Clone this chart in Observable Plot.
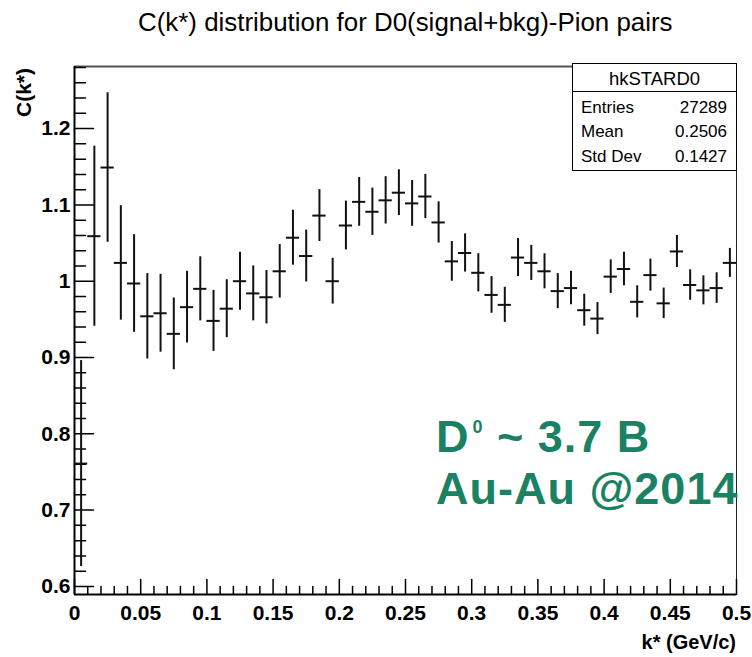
<!DOCTYPE html>
<html>
<head>
<meta charset="utf-8">
<script src="https://cdn.jsdelivr.net/npm/d3@7"></script>
<script src="https://cdn.jsdelivr.net/npm/@observablehq/plot@0.6"></script>
<style>
  body { margin: 0; background: white; }
  #wrap { position: relative; width: 752px; height: 657px; background: white; overflow: hidden;
          font-family: "Liberation Sans", Arial, Helvetica, sans-serif; color: black; }
  #chart { position: absolute; left: 0; top: 0; }
  .abs { position: absolute; line-height: 1; white-space: nowrap; }
</style>
</head>
<body>
<div id="wrap">
  <div id="chart"></div>
  <div class="abs" id="title" style="left:138px; top:10px; font-size:25.9px;"></div>
  <div class="abs" id="ylab" style="left:13px; top:168px; width:100px; text-align:right; font-size:21px; font-weight:bold; transform-origin:0 0; transform:rotate(-90deg);"></div>
  <div class="abs" id="xlab" style="left:536px; top:632px; width:200px; text-align:right; font-size:20px; font-weight:bold;"></div>
  <div id="stats" style="position:absolute; left:572px; top:63px; width:165px; height:108px; box-sizing:border-box; border:1px solid black; background:white;"></div>
  <div id="ann" style="color:#1a8262; font-weight:bold; font-size:45px; letter-spacing:1px;"></div>
</div>
<script>
// ---- data ----
const histName = "hkSTARD0";
const titleText = "C(k*) distribution for D0(signal+bkg)-Pion pairs";
const xLabel = "k* (GeV/c)";
const yLabel = "C(k*)";
const statLabels = ["Entries", "Mean", "Std Dev"];
const statValues = ["27289", "0.2506", "0.1427"];
const annotation1 = ["D", "0", " ~ 3.7 B"];
const annotation2 = "Au-Au @2014";

const binWidth = 0.01;
const kstar = [0.005, 0.015, 0.025, 0.035, 0.045, 0.055, 0.065, 0.075, 0.085, 0.095,
               0.105, 0.115, 0.125, 0.135, 0.145, 0.155, 0.165, 0.175, 0.185, 0.195,
               0.205, 0.215, 0.225, 0.235, 0.245, 0.255, 0.265, 0.275, 0.285, 0.295,
               0.305, 0.315, 0.325, 0.335, 0.345, 0.355, 0.365, 0.375, 0.385, 0.395,
               0.405, 0.415, 0.425, 0.435, 0.445, 0.455, 0.465, 0.475, 0.485, 0.495];
const cValue = [0.761, 1.059, 1.149, 1.024, 0.997, 0.954, 0.958, 0.931, 0.966, 0.990,
                0.948, 0.964, 1.000, 0.984, 0.979, 1.013, 1.057, 1.033, 1.086, 1.000,
                1.073, 1.104, 1.091, 1.106, 1.116, 1.102, 1.111, 1.077, 1.026, 1.037,
                1.011, 0.982, 0.969, 1.031, 1.024, 1.013, 0.987, 0.991, 0.962, 0.951,
                1.006, 1.016, 0.973, 1.008, 0.971, 1.039, 0.995, 0.988, 0.991, 1.024];
const cError = [0.135, 0.118, 0.098, 0.075, 0.064, 0.056, 0.051, 0.047, 0.047, 0.042,
                0.040, 0.038, 0.038, 0.036, 0.035, 0.035, 0.036, 0.034, 0.034, 0.030,
                0.032, 0.032, 0.031, 0.031, 0.030, 0.030, 0.029, 0.027, 0.026, 0.025,
                0.025, 0.024, 0.023, 0.025, 0.023, 0.023, 0.023, 0.022, 0.021, 0.021,
                0.022, 0.022, 0.021, 0.021, 0.020, 0.021, 0.020, 0.019, 0.020, 0.019];

const xDomain = [0, 0.5];
const yDomain = [0.5894, 1.2814];
const xMajor = [0, 0.05, 0.1, 0.15, 0.2, 0.25, 0.3, 0.35, 0.4, 0.45, 0.5];
const xMinor = [0.01, 0.02, 0.03, 0.04, 0.06, 0.07, 0.08, 0.09, 0.11, 0.12, 0.13, 0.14,
                0.16, 0.17, 0.18, 0.19, 0.21, 0.22, 0.23, 0.24, 0.26, 0.27, 0.28, 0.29,
                0.31, 0.32, 0.33, 0.34, 0.36, 0.37, 0.38, 0.39, 0.41, 0.42, 0.43, 0.44,
                0.46, 0.47, 0.48, 0.49];
const yMajor = [0.6, 0.7, 0.8, 0.9, 1.0, 1.1, 1.2];
const yMinor = [0.62, 0.64, 0.66, 0.68, 0.72, 0.74, 0.76, 0.78, 0.82, 0.84, 0.86, 0.88,
                0.92, 0.94, 0.96, 0.98, 1.02, 1.04, 1.06, 1.08, 1.12, 1.14, 1.16, 1.18,
                1.22, 1.24, 1.26, 1.28];

const rows = kstar.map((k, i) => ({k, c: cValue[i], e: cError[i]}));

// tick shape: a plain line along the vector direction
const line = {draw(context, l) { context.moveTo(0, 0); context.lineTo(0, -l); }};
const fmt = d3.format("~g");

const plot = Plot.plot({
  width: 752,
  height: 657,
  marginLeft: 74,
  marginRight: 16,
  marginTop: 66,
  marginBottom: 63,
  style: {fontFamily: '"Liberation Sans", Arial, Helvetica, sans-serif', background: "white", color: "black"},
  x: {domain: xDomain, label: null},
  y: {domain: yDomain, label: null},
  marks: [
    Plot.frame({stroke: "#222", strokeWidth: 1}),
    Plot.ruleY([yDomain[1]], {stroke: "#555", strokeWidth: 2}),
    Plot.ruleX([xDomain[0]], {stroke: "black", strokeWidth: 2}),
    Plot.ruleY([yDomain[0]], {stroke: "black", strokeWidth: 2}),
    // x ticks (inward, upward)
    Plot.vector(xMajor, {x: d => d, y: yDomain[0], length: 15, anchor: "start", shape: line, stroke: "black", strokeWidth: 1.5}),
    Plot.vector(xMinor, {x: d => d, y: yDomain[0], length: 8, anchor: "start", shape: line, stroke: "black", strokeWidth: 1.5}),
    // y ticks (inward, rightward)
    Plot.vector(yMajor, {x: xDomain[0], y: d => d, length: 19, rotate: 90, anchor: "start", shape: line, stroke: "black", strokeWidth: 1.5}),
    Plot.vector(yMinor, {x: xDomain[0], y: d => d, length: 11, rotate: 90, anchor: "start", shape: line, stroke: "black", strokeWidth: 1.5}),
    Plot.axisX(xMajor, {tickSize: 0, tickPadding: 11, tickFormat: fmt, fontSize: 21, fontWeight: "bold", label: null}),
    Plot.axisY(yMajor, {tickSize: 0, tickPadding: 4, tickFormat: fmt, fontSize: 21, fontWeight: "bold", label: null}),
    // error bars
    Plot.ruleX(rows, {x: "k", y1: d => d.c - d.e, y2: d => d.c + d.e, stroke: "#111", strokeWidth: 2}),
    Plot.ruleY(rows, {y: "c", x1: d => d.k - binWidth / 2, x2: d => d.k + binWidth / 2, stroke: "#111", strokeWidth: 2})
  ]
});
document.getElementById("chart").appendChild(plot);

// texts
document.getElementById("title").textContent = titleText;
document.getElementById("ylab").textContent = yLabel;
document.getElementById("xlab").textContent = xLabel;

// stats box
const wrap = document.getElementById("wrap");
function addDiv(style, text) {
  const d = document.createElement("div");
  d.className = "abs";
  d.setAttribute("style", style);
  d.textContent = text;
  wrap.appendChild(d);
  return d;
}
addDiv("left:572px; top:70px; width:165px; text-align:center; font-size:18.5px;", histName);
addDiv("left:572px; top:91px; width:165px; height:1px; background:black;", "");
const rowTops = [99, 123, 148];
statLabels.forEach((s, i) => {
  addDiv(`left:581px; top:${rowTops[i]}px; font-size:17px;`, s);
  addDiv(`left:627px; top:${rowTops[i]}px; width:100px; text-align:right; font-size:17px;`, statValues[i]);
});

// annotation
const ann = document.getElementById("ann");
const l1 = document.createElement("div");
l1.className = "abs";
l1.setAttribute("style", "left:436px; top:414px;");
const sD = document.createElement("span"); sD.textContent = annotation1[0];
const s0 = document.createElement("span"); s0.textContent = annotation1[1];
s0.setAttribute("style", "font-size:18px; position:relative; top:-19px; padding-left:3px;");
const sR = document.createElement("span"); sR.textContent = annotation1[2];
l1.append(sD, s0, sR);
ann.appendChild(l1);
const l2 = document.createElement("div");
l2.className = "abs";
l2.setAttribute("style", "left:436px; top:466px;");
l2.textContent = annotation2;
ann.appendChild(l2);
</script>
</body>
</html>
